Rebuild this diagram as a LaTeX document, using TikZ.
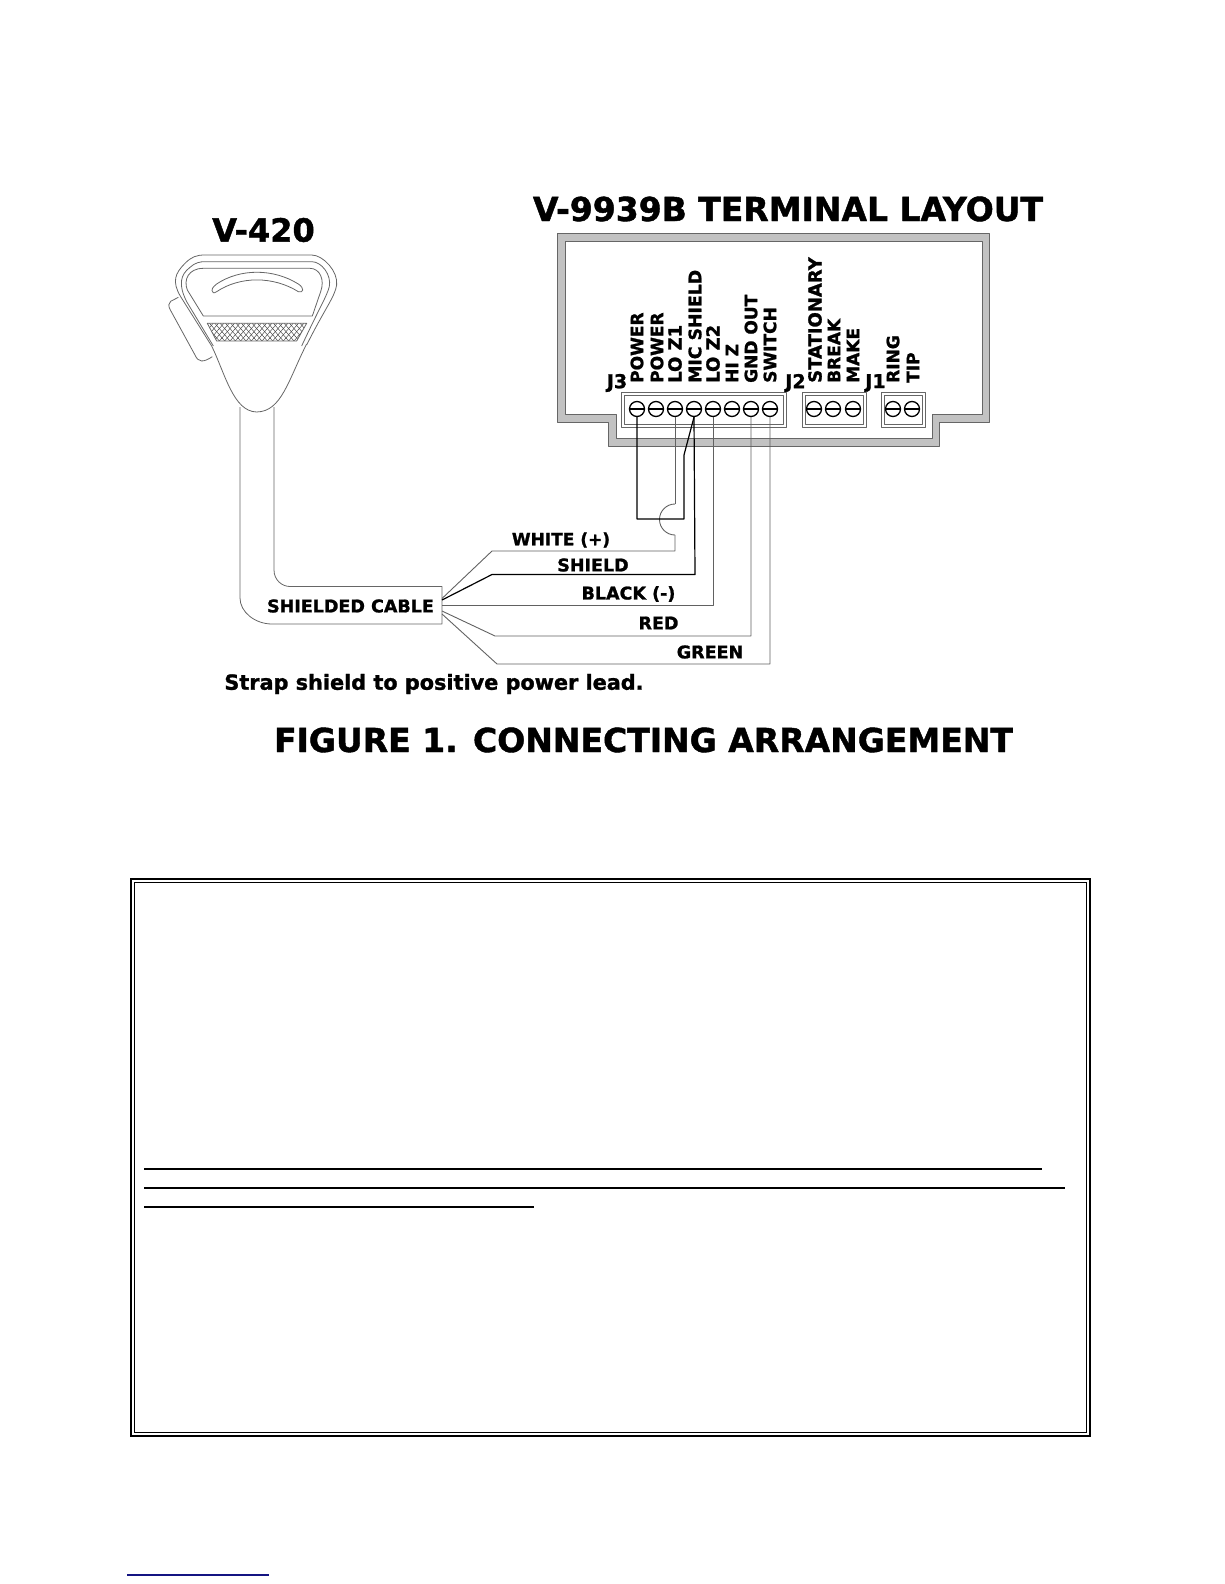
\documentclass[tikz,border=0pt]{standalone}
\usepackage{fontspec}
\setmainfont[BoldFeatures={FakeBold=1.3}]{DejaVu Sans}
\usetikzlibrary{calc}
\definecolor{panelgray}{gray}{0.76}
\definecolor{wiregray}{gray}{0.38}
\definecolor{linkblue}{RGB}{20,20,130}
\newcommand{\heavy}[1]{\bfseries\fontsize{#1}{#1}\selectfont}
\tikzset{
  lab/.style={inner sep=0pt,font=\heavy{17.5}},
  pinlab/.style={inner sep=0pt,rotate=90,anchor=west},
  screw/.style={circle,draw,line width=1.3pt,minimum size=15pt,inner sep=0pt},
  wire/.style={wiregray,line width=0.9pt,line join=round},
  hotwire/.style={black,line width=1.2pt,line join=round},
  body/.style={black!60,line width=0.8pt,line join=round},
  rule/.style={line width=2pt}
}
\begin{document}
\begin{tikzpicture}[x=1pt,y=-1pt]
  \useasboundingbox (0,0) rectangle (1224,1584);

  % titles
  \node[lab,font=\heavy{33}] (title) at (788,209) {V-9939B TERMINAL LAYOUT};
  \node[lab,font=\heavy{32}] (mic) at (263.5,230) {V-420};
  \node[lab,font=\heavy{33}] (fig) at (643.5,740) {FIGURE 1. CONNECTING ARRANGEMENT};

  % panel outline
  \fill[panelgray,even odd rule]
    (557,233) -- (989,233) -- (989,422) -- (939,422) -- (939,446) -- (608,446) -- (608,422) -- (557,422) -- cycle
    (565,241) -- (982,241) -- (982,414) -- (932,414) -- (932,438) -- (616,438) -- (616,414) -- (565,414) -- cycle;
  \draw[body]
    (557,233) -- (989,233) -- (989,422) -- (939,422) -- (939,446) -- (608,446) -- (608,422) -- (557,422) -- cycle
    (565,241) -- (982,241) -- (982,414) -- (932,414) -- (932,438) -- (616,438) -- (616,414) -- (565,414) -- cycle;

  % terminal strips
  \foreach \xa/\xb in {621/786,802/866,881/925} {
    \draw[body,fill=white] (\xa,392) rectangle (\xb,427);
    \draw[body,line width=0.5pt] (\xa+3,395) rectangle (\xb-3,424);
  }
  \foreach \name/\xpos in {a/637,b/656,c/675,d/694,e/713,f/732,g/751,h/770,i/814,j/833,k/853,l/893,m/912} {
    \node[screw] (\name) at (\xpos,409) {};
    \draw[line width=1.6pt] (\name.west) -- (\name.east);
  }

  % pin labels
  \foreach \xpos/\fs/\txt in {637/17/POWER,657/17/POWER,675/18/LO Z1,695/17.3/MIC SHIELD,713/18/LO Z2,732/17/HI Z,751/17/GND OUT,770/17/SWITCH,815/18/STATIONARY,834/17/BREAK,853/17/MAKE,893/17/RING,913/17/TIP}
    \node[pinlab,font=\heavy{\fs}] at (\xpos,383) {\txt};
  \node[lab,font=\heavy{19}] (jc) at (617,383) {J3};
  \node[lab,font=\heavy{19}] (jb) at (795.5,383) {J2};
  \node[lab,font=\heavy{19}] (ja) at (875.5,383) {J1};

  % microphone
  \begin{scope}[shift={(150,240)},x=0.3333pt,y=-0.3333pt]
    \draw[body,fill=white] (185,318) .. controls (225,400) and (250,515) .. (320,516)
      .. controls (395,515) and (415,420) .. (470,312);
    \draw[body] (85,172) -- (62,184) .. controls (55,190) and (55,198) .. (60,208)
      -- (135,345) .. controls (145,368) and (160,368) .. (187,350);
    \draw[body] (185,318) -- (92,170) .. controls (65,125) and (75,100) .. (105,70)
      .. controls (125,50) and (140,45) .. (165,45) -- (485,45)
      .. controls (520,45) and (565,95) .. (560,135) .. controls (555,170) and (525,205) .. (470,315);
    \draw[body] (190,318) -- (110,185) .. controls (85,135) and (90,105) .. (120,82)
      .. controls (135,68) and (150,65) .. (165,65) -- (485,65)
      .. controls (515,65) and (545,105) .. (538,140) .. controls (530,170) and (510,200) .. (455,318);
    \draw[body] (160,228) -- (112,150) .. controls (100,120) and (115,85) .. (160,85) -- (480,85)
      .. controls (510,85) and (525,120) .. (512,155) -- (487,228) -- cycle;
    \draw[body] (190,158) .. controls (180,150) and (190,140) .. (200,132)
      .. controls (270,85) and (370,85) .. (445,132) .. controls (465,145) and (460,160) .. (445,155)
      .. controls (370,108) and (270,108) .. (200,155) .. controls (195,158) and (192,159) .. (190,158) -- cycle;
    % grille
    \begin{scope}
      \clip (172,250) -- (470,250) -- (440,303) -- (200,303) -- cycle;
      \foreach \k in {0,1,...,44} {
        \draw[black!75,line width=0.45pt] (90+\k*16,240) -- (150+\k*16,310);
        \draw[black!75,line width=0.45pt] (150+\k*16,240) -- (90+\k*16,310);
      }
    \end{scope}
    \draw[body] (172,250) -- (470,250) -- (440,303) -- (200,303) -- cycle;
  \end{scope}

  % cable
  \coordinate (cabletr) at (442,586.5);
  \coordinate (cablebr) at (442,624);
  \draw[body] (240,407) -- (240,598) .. controls (240,612) and (255,624) .. (272,624) -- (cablebr) -- (cabletr)
    -- (290,586.5) .. controls (282,586.5) and (274,580) .. (274,570) -- (274,407);
  \node[lab] (cable) at (350.5,606) {SHIELDED CABLE};

  % wires from the cable to the terminals
  \draw[wire] (442,598.5) -- (492,551) -- (675,551) -- (675,535);
  \draw[wire] (c.south) -- (675,504);
  \draw[wire] (675,504) arc[start angle=270,end angle=90,radius=15.5];
  \draw[hotwire] (442,600) -- (492,574.5) -- (695,574.5) -- (d.south);
  \draw[hotwire] (a.south) -- (637,519) -- (684,519) -- (684,455) -- (d.south);
  \draw[wire] (442,605) -- (713,605) -- (e.south);
  \draw[wire] (442,611) -- (495,636) -- (751,636) -- (g.south);
  \draw[wire] (442,614) -- (497,664) -- (770,664) -- (h.south);

  % wire labels
  \node[lab,font=\heavy{17}] (white) at (561,540) {WHITE (+)};
  \node[lab] (shield) at (593,565) {SHIELD};
  \node[lab] (black) at (628.5,594) {BLACK (-)};
  \node[lab] (red) at (658.5,623) {RED};
  \node[lab] (green) at (710,652) {GREEN};
  \node[lab,font=\heavy{20.8}] (strap) at (434,684) {Strap shield to positive power lead.};

  % lower box
  \draw[line width=1.4pt] (131,879) rectangle (1090,1436);
  \draw[line width=1.2pt] (134.5,882.5) rectangle (1086.5,1432.5);
  \draw[rule] (144,1169) -- (1042,1169);
  \draw[rule] (144,1188) -- (1065,1188);
  \draw[rule] (144,1207) -- (534,1207);

  % link underline
  \draw[linkblue,line width=1.2pt] (127,1575) -- (269,1575);
\end{tikzpicture}
\end{document}
